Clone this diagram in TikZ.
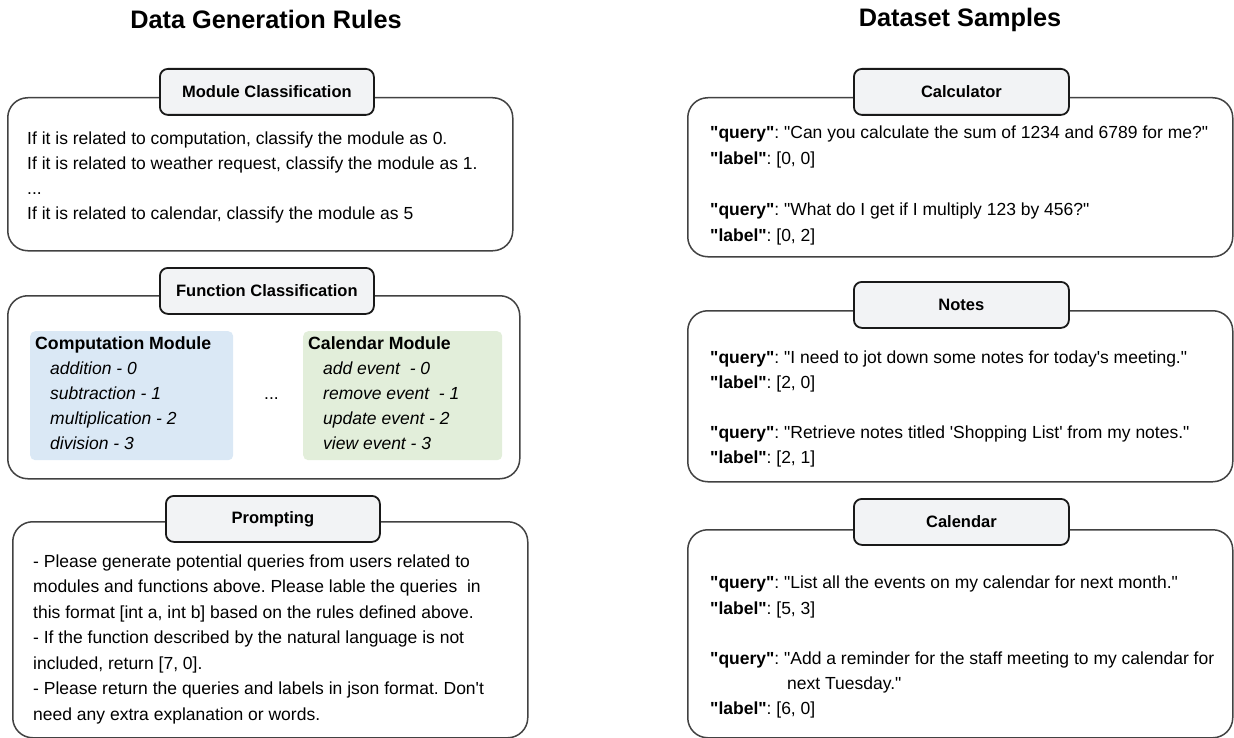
\documentclass[tikz,border=0pt]{standalone}
\usepackage{fontspec}
\setmainfont{Liberation Sans}[Ligatures=TeXOff]
\definecolor{boxline}{RGB}{66,66,66}
\definecolor{tabfill}{RGB}{242,243,245}
\definecolor{bluefill}{RGB}{218,232,245}
\definecolor{greenfill}{RGB}{226,238,218}
\frenchspacing
\begin{document}
\begin{tikzpicture}[x=1pt,y=-1pt,
  outerbox/.style={draw=boxline, line width=1.5pt, rounded corners=20pt, anchor=north west, inner sep=0pt},
  tabbox/.style={draw=black!90, fill=tabfill, line width=1.8pt, rounded corners=8pt, anchor=north west, inner sep=0pt,
     minimum width=214pt, minimum height=46pt, font=\bfseries\fontsize{16.5}{20}\selectfont},
  modbox/.style={rounded corners=5pt, anchor=north west, inner sep=0pt, minimum width=203pt, minimum height=129pt},
  txt/.style={anchor=base west, inner sep=0pt, font=\fontsize{17.5}{20}\selectfont},
  itxt/.style={txt, font=\itshape\fontsize{17.5}{20}\selectfont},
  btxt/.style={txt, font=\bfseries\fontsize{17.7}{20}\selectfont},
  titletxt/.style={inner sep=0pt, font=\bfseries\fontsize{25.3}{30}\selectfont}]
\useasboundingbox (0,0) rectangle (1234,738);

% titles
\node[titletxt] (ltitle) at (266,19) {Data Generation Rules};
\node[titletxt] (rtitle) at (960,20) {Dataset Samples};

% ---------- Module Classification
\node[outerbox, minimum width=505pt, minimum height=153pt] (modouter) at (7,97) {};
\node[tabbox] (modtab) at (159,68) {Module Classification};
\node[txt] (m1) at (27,145) {If it is related to computation, classify the module as 0.};
\node[txt] (m2) at (27,170) {If it is related to weather request, classify the module as 1.};
\node[txt] (m3) at (27,195) {...};
\node[txt] (m4) at (27,220) {If it is related to calendar, classify the module as 5};

% ---------- Function Classification
\node[outerbox, minimum width=512pt, minimum height=183pt] (funouter) at (7,295) {};
\node[tabbox] (funtab) at (159,267) {Function Classification};
\node[modbox, fill=bluefill] (compbox) at (30,331) {};
\node[modbox, fill=greenfill, minimum width=199pt] (calbox) at (303,331) {};
\node[btxt] (c0) at (35,349) {Computation Module};
\node[itxt] (c1) at (50,374) {addition - 0};
\node[itxt] (c2) at (50,399) {subtraction - 1};
\node[itxt] (c3) at (50,424) {multiplication - 2};
\node[itxt] (c4) at (50,449) {division - 3};
\node[txt] (dots) at (264,399) {...};
\node[btxt] (k0) at (308,349) {Calendar Module};
\node[itxt] (k1) at (323,374) {add event\ \ - 0};
\node[itxt] (k2) at (323,399) {remove event\ \ - 1};
\node[itxt] (k3) at (323,424) {update event - 2};
\node[itxt] (k4) at (323,449) {view event - 3};

% ---------- Prompting
\node[outerbox, minimum width=515pt, minimum height=216pt] (proouter) at (12,521) {};
\node[tabbox] (protab) at (165,495) {Prompting};
\node[txt] (p1) at (33,567) {- Please generate potential queries from users related to};
\node[txt] (p2) at (33,592.5) {modules and functions above. Please lable the queries\ \ in};
\node[txt] (p3) at (33,618) {this format [int a, int b] based on the rules defined above.};
\node[txt] (p4) at (33,643.5) {- If the function described by the natural language is not};
\node[txt] (p5) at (33,669) {included, return [7, 0].};
\node[txt] (p6) at (33,694.5) {- Please return the queries and labels in json format. Don\textquotesingle t};
\node[txt] (p7) at (33,720) {need any extra explanation or words.};

% ---------- Calculator
\node[outerbox, minimum width=545pt, minimum height=159pt] (calcouter) at (687,97) {};
\node[tabbox, minimum width=215pt] (calctab) at (853,68) {Calculator};
\node[txt] (q1) at (710,139) {\textbf{"query"}: "Can you calculate the sum of 1234 and 6789 for me?"};
\node[txt] (q2) at (710,165) {\textbf{"label"}: [0, 0]};
\node[txt] (q3) at (710,215) {\textbf{"query"}: "What do I get if I multiply 123 by 456?"};
\node[txt] (q4) at (710,241) {\textbf{"label"}: [0, 2]};

% ---------- Notes
\node[outerbox, minimum width=545pt, minimum height=171pt] (notesouter) at (687,310) {};
\node[tabbox, minimum width=215pt] (notestab) at (853,281) {Notes};
\node[txt] (n1) at (710,363) {\textbf{"query"}: "I need to jot down some notes for today\textquotesingle s meeting."};
\node[txt] (n2) at (710,388) {\textbf{"label"}: [2, 0]};
\node[txt] (n3) at (710,438) {\textbf{"query"}: "Retrieve notes titled \textquotesingle Shopping List\textquotesingle\ from my notes."};
\node[txt] (n4) at (710,463) {\textbf{"label"}: [2, 1]};

% ---------- Calendar
\node[outerbox, minimum width=545pt, minimum height=208pt] (calouter) at (687,529) {};
\node[tabbox, minimum width=215pt] (caltab) at (853,498) {Calendar};
\node[txt] (e1) at (710,588) {\textbf{"query"}: "List all the events on my calendar for next month."};
\node[txt] (e2) at (710,614) {\textbf{"label"}: [5, 3]};
\node[txt] (e3) at (710,664) {\textbf{"query"}: "Add a reminder for the staff meeting to my calendar for};
\node[txt] (e4) at (787,689) {next Tuesday."};
\node[txt] (e5) at (710,714) {\textbf{"label"}: [6, 0]};
\end{tikzpicture}
\end{document}
